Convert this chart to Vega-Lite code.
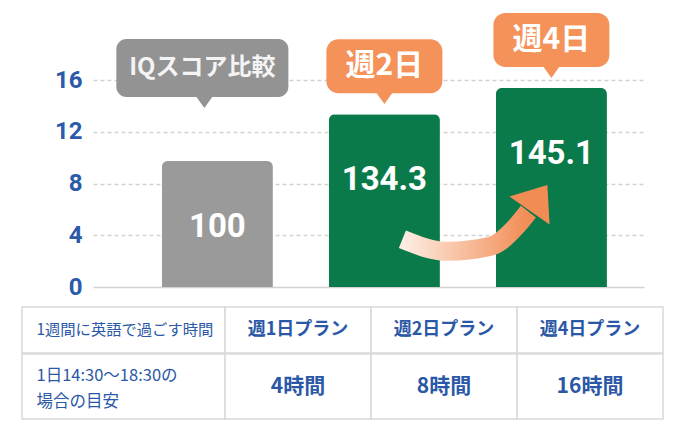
{
  "$schema": "https://vega.github.io/schema/vega-lite/v6.json",
  "background": "white",
  "padding": {"left": 21, "top": 13, "right": 0, "bottom": 0},
  "config": {"view": {"stroke": null}},
  "datasets": {
    "plans": [
      {"plan": "週1日", "height": 9.74, "score": 100, "callout": "IQスコア比較", "header": "週1日プラン", "hours": "4時間"},
      {"plan": "週2日", "height": 13.36, "score": 134.3, "callout": "週2日", "header": "週2日プラン", "hours": "8時間"},
      {"plan": "週4日", "height": 15.38, "score": 145.1, "callout": "週4日", "header": "週4日プラン", "hours": "16時間"}
    ],
    "arrow": [
      {"part": "body", "i": 1, "ax": 56.15, "ay": 3.69},
      {"part": "body", "i": 2, "ax": 64.32, "ay": 2.76},
      {"part": "body", "i": 3, "ax": 72.12, "ay": 3.15},
      {"part": "body", "i": 4, "ax": 77.02, "ay": 4.78},
      {"part": "body", "i": 5, "ax": 79.02, "ay": 5.82},
      {"part": "head", "i": 6, "ax": 80.29, "ay": 6.56}
    ]
  },
  "bounds": "full",
  "spacing": 7,
  "vconcat": [
    {
      "bounds": "flush",
      "spacing": 0,
      "hconcat": [
        {
          "width": 70.6,
          "height": 207,
          "data": {"values": [{}]},
          "mark": {"type": "rect", "color": "white", "opacity": 0},
          "encoding": {}
        },
        {
          "width": 551,
          "height": 207,
          "resolve": {"scale": {"x": "independent"}},
          "layer": [
            {
              "data": {"name": "plans"},
              "encoding": {
                "x": {"field": "plan", "type": "nominal", "sort": null, "axis": null,
                  "scale": {"type": "band", "paddingInner": 0.335, "paddingOuter": 0.317, "align": 0.65}},
                "y": {"field": "height", "type": "quantitative",
                  "scale": {"domain": [0, 16], "nice": false},
                  "axis": {"values": [0, 4, 8, 12, 16], "title": null, "domain": false, "ticks": false,
                    "labelFont": "Roboto", "labelFontSize": 24, "labelFontWeight": "bold", "labelColor": "#2a5aa8",
                    "labelPadding": 11, "grid": true, "gridColor": "#d2d2d2", "gridWidth": 1.5,
                    "gridDash": {"condition": {"test": "datum.value === 0", "value": []}, "value": [4, 3]}}}
              },
              "layer": [
                {
                  "mark": {"type": "bar", "cornerRadiusTopLeft": 6, "cornerRadiusTopRight": 6},
                  "encoding": {"color": {"field": "plan", "type": "nominal",
                    "scale": {"domain": ["週1日", "週2日", "週4日"], "range": ["#9a9a9a", "#0b7a4a", "#0b7a4a"]}, "legend": null}}
                },
                {
                  "mark": {"type": "text", "font": "Roboto", "fontSize": 33, "fontWeight": "bold", "color": "white", "baseline": "middle", "dy": 66},
                  "encoding": {"text": {"field": "score", "type": "quantitative"}}
                },
                {
                  "transform": [{"filter": "datum.plan === '週1日'"}],
                  "layer": [
                    {
                      "mark": {"type": "bar", "width": 172, "xOffset": -15, "yOffset": -122, "y2Offset": -64, "cornerRadius": 10, "color": "#939393"},
                      "encoding": {"y2": {"field": "height"}}
                    },
                    {
                      "mark": {"type": "point", "shape": "M-1,-0.8L1,-0.8L0,0.6Z", "size": 324, "filled": true, "opacity": 1, "strokeWidth": 0, "color": "#939393", "xOffset": -13, "yOffset": -58.4}
                    },
                    {
                      "mark": {"type": "text", "font": "Noto Sans CJK JP", "fontWeight": "bold", "fontSize": 24, "color": "#f4f4f4", "baseline": "middle", "dx": -15, "dy": -93},
                      "encoding": {"text": {"field": "callout"}}
                    }
                  ]
                },
                {
                  "transform": [{"filter": "datum.plan !== '週1日'"}],
                  "layer": [
                    {
                      "mark": {"type": "bar", "width": 116, "yOffset": -75, "y2Offset": -21, "cornerRadius": 12, "color": "#f5925a"},
                      "encoding": {"y2": {"field": "height"}}
                    },
                    {
                      "mark": {"type": "point", "shape": "M-1,-0.8L1,-0.8L0,0.6Z", "size": 324, "filled": true, "opacity": 1, "strokeWidth": 0, "color": "#f5925a", "yOffset": -15.5}
                    },
                    {
                      "mark": {"type": "text", "font": "Noto Sans CJK JP", "fontWeight": "bold", "fontSize": 30, "color": "white", "baseline": "middle", "dy": -48},
                      "encoding": {"text": {"field": "callout"}}
                    }
                  ]
                }
              ]
            },
            {
              "data": {"name": "arrow"},
              "encoding": {
                "x": {"field": "ax", "type": "quantitative", "scale": {"domain": [0, 100], "nice": false, "zero": false}, "axis": null},
                "y": {"field": "ay", "type": "quantitative", "scale": {"domain": [0, 16], "nice": false},
                  "axis": {"values": [0, 4, 8, 12, 16], "title": null, "domain": false, "ticks": false,
                    "labelFont": "Roboto", "labelFontSize": 24, "labelFontWeight": "bold", "labelColor": "#2a5aa8",
                    "labelPadding": 11, "grid": true, "gridColor": "#d2d2d2", "gridWidth": 1.5,
                    "gridDash": {"condition": {"test": "datum.value === 0", "value": []}, "value": [4, 3]}}}
              },
              "layer": [
                {
                  "transform": [{"filter": "datum.part === 'body'"}],
                  "mark": {"type": "line", "interpolate": "monotone", "strokeWidth": 19, "strokeCap": "butt",
                    "color": {"gradient": "linear", "x1": 0, "y1": 0, "x2": 1, "y2": 0,
                      "stops": [{"offset": 0, "color": "#fdeee4"}, {"offset": 1, "color": "#f28c55"}]}},
                  "encoding": {"order": {"field": "i", "type": "quantitative"}}
                },
                {
                  "transform": [{"filter": "datum.part === 'head'"}],
                  "mark": {"type": "point", "shape": "M0,-0.85L1,0.42L-1,0.42Z", "size": 2401, "angle": 35, "filled": true, "opacity": 1, "strokeWidth": 0, "color": "#f28c55"}
                }
              ]
            }
          ]
        }
      ]
    },
    {
      "bounds": "full",
      "spacing": -1.5,
      "vconcat": [
        {
          "bounds": "flush",
          "spacing": 0,
          "hconcat": [
            {
              "width": 203,
              "height": 46,
              "data": {"values": [{"t": "1週間に英語で過ごす時間"}]},
              "layer": [
                {"mark": {"type": "rect", "fill": "white", "stroke": "#d9d9d9", "strokeWidth": 1.5}, "encoding": {}},
                {"mark": {"type": "text", "align": "left", "baseline": "middle", "dx": -87, "font": "Noto Sans CJK JP", "fontSize": 15.3, "color": "#2b58a6"},
                  "encoding": {"text": {"field": "t"}}}
              ]
            },
            {
              "width": 438,
              "height": 46,
              "data": {"name": "plans"},
              "encoding": {"x": {"field": "plan", "type": "nominal", "sort": null, "axis": null, "scale": {"paddingInner": 0, "paddingOuter": 0}}},
              "layer": [
                {"mark": {"type": "rect", "fill": "white", "stroke": "#d9d9d9", "strokeWidth": 1.5}},
                {"mark": {"type": "text", "baseline": "middle", "font": "Noto Sans CJK JP", "fontSize": 18, "fontWeight": "bold", "color": "#2b58a6"},
                  "encoding": {"text": {"field": "header"}}}
              ]
            }
          ]
        },
        {
          "bounds": "flush",
          "spacing": 0,
          "hconcat": [
            {
              "width": 203,
              "height": 65,
              "data": {"values": [{"t": "1日14:30〜18:30の\n場合の目安"}]},
              "layer": [
                {"mark": {"type": "rect", "fill": "white", "stroke": "#d9d9d9", "strokeWidth": 1.5}, "encoding": {}},
                {"mark": {"type": "text", "align": "left", "baseline": "middle", "dx": -87, "dy": -11, "lineBreak": "\n", "lineHeight": 26, "font": "Noto Sans CJK JP", "fontSize": 16.5, "color": "#2b58a6"},
                  "encoding": {"text": {"field": "t"}}}
              ]
            },
            {
              "width": 438,
              "height": 65,
              "data": {"name": "plans"},
              "encoding": {"x": {"field": "plan", "type": "nominal", "sort": null, "axis": null, "scale": {"paddingInner": 0, "paddingOuter": 0}}},
              "layer": [
                {"mark": {"type": "rect", "fill": "white", "stroke": "#d9d9d9", "strokeWidth": 1.5}},
                {"mark": {"type": "text", "baseline": "middle", "font": "Noto Sans CJK JP", "fontSize": 21, "fontWeight": "bold", "color": "#2b58a6"},
                  "encoding": {"text": {"field": "hours"}}}
              ]
            }
          ]
        }
      ]
    }
  ]
}
